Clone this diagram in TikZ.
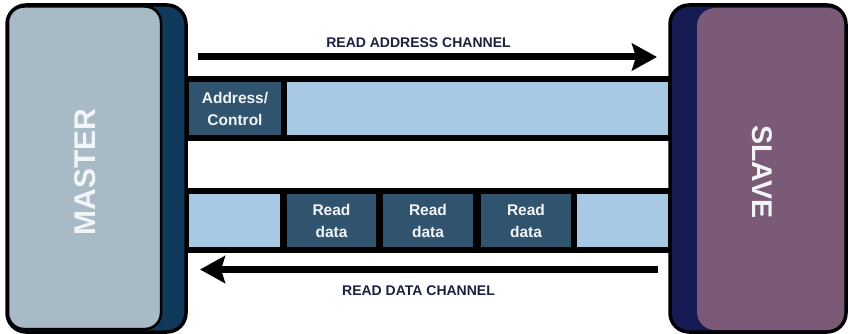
\documentclass[tikz,border=0pt]{standalone}
\usepackage{fontspec}
\setmainfont{Liberation Sans}
\usetikzlibrary{arrows.meta}
\definecolor{mfront}{HTML}{A8BAC5}
\definecolor{mnavy}{HTML}{103A5C}
\definecolor{snavy}{HTML}{161C53}
\definecolor{spurple}{HTML}{7B5A77}
\definecolor{lblue}{HTML}{A6C8E3}
\definecolor{dcell}{HTML}{30536E}
\definecolor{labcol}{HTML}{1B203C}
\definecolor{boxtxt}{HTML}{F2F5F8}
\begin{document}
\begin{tikzpicture}[x=1pt,y=-1pt,
  cellbase/.style={inner sep=0pt, outer sep=0pt, minimum height=53pt},
  lightcell/.style={cellbase, fill=lblue},
  darkcell/.style={cellbase, fill=dcell, text=boxtxt, align=center,
     font=\bfseries\fontsize{15.5}{22}\selectfont},
  chanlabel/.style={inner sep=0pt, text=labcol, font=\bfseries\fontsize{14}{16}\selectfont},
  bigtitle/.style={inner sep=0pt, text=boxtxt, font=\bfseries\fontsize{30}{32}\selectfont},
  bigarrow/.style={line width=7pt, -{Stealth[length=25pt,width=27pt,inset=4pt]}}
]
\useasboundingbox (0,0) rectangle (848,334);
% channel bands
\fill[black] (182,76) rectangle (672,141);
\fill[black] (182,188) rectangle (672,253);
% top band cells
\node[darkcell, minimum width=92pt] (ac) at (235,108.5) {Address/\\Control};
\node[lightcell, minimum width=381pt] (t2) at (477.5,108.5) {};
% bottom band cells
\node[lightcell, minimum width=91pt] (b1) at (234.5,220.5) {};
\node[darkcell, minimum width=89pt] (rd1) at (331.5,220.5) {Read\\data};
\node[darkcell, minimum width=90pt] (rd2) at (428,220.5) {Read\\data};
\node[darkcell, minimum width=90pt] (rd3) at (526,220.5) {Read\\data};
\node[lightcell, minimum width=91pt] (b5) at (622.5,220.5) {};
% master
\draw[line width=3.5pt, fill=mnavy, rounded corners=19pt] (7,5) rectangle (186,332);
\draw[line width=2.5pt, fill=mfront, rounded corners=16pt] (8,6.5) rectangle (161,329);
\node[bigtitle, rotate=90] (master) at (85,172) {MASTER};
% slave
\fill[snavy, rounded corners=19pt] (670,5) rectangle (846,332);
\fill[spurple, rounded corners=18pt] (697,8) rectangle (846,330);
\draw[line width=3.5pt, rounded corners=19pt] (670,5) rectangle (846,332);
\node[bigtitle, rotate=-90, font=\bfseries\fontsize{28.5}{30}\selectfont] (slave) at (762,172) {SLAVE};
% arrows
\coordinate (a1s) at (198,57);
\coordinate (a1e) at (657,57);
\draw[bigarrow] (a1s) -- (a1e);
\coordinate (a2s) at (658,269.5);
\coordinate (a2e) at (200,269.5);
\draw[bigarrow] (a2s) -- (a2e);
% labels
\node[chanlabel] (l1) at (418.5,43) {READ ADDRESS CHANNEL};
\node[chanlabel] (l2) at (418.5,291) {READ DATA CHANNEL};
\end{tikzpicture}
\end{document}
